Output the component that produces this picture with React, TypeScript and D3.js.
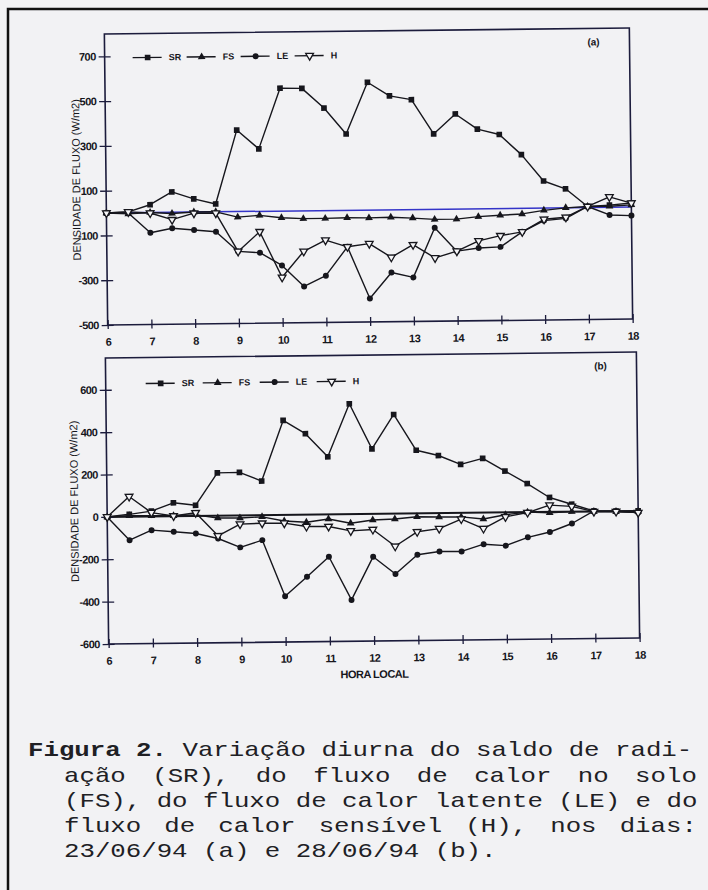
import React, { useEffect, useRef } from "react";
import * as d3 from "d3";

// half-hourly readings, 6h to 18h
const hours = [6, 6.5, 7, 7.5, 8, 8.5, 9, 9.5, 10, 10.5, 11, 11.5, 12, 12.5, 13, 13.5, 14, 14.5, 15, 15.5, 16, 16.5, 17, 17.5, 18];
const hourTicks = [6, 7, 8, 9, 10, 11, 12, 13, 14, 15, 16, 17, 18];

// (a) 23/06/94
const srA = [0, 4, 35, 91, 59, 35, 364, 279, 549, 547, 458, 341, 571, 509, 491, 337, 425, 356, 331, 240, 121, 85, 5, 10, 18];
const fsA = [0, -5, 0, -5, 0, 0, -25, -18, -30, -35, -35, -33, -35, -33, -38, -45, -45, -35, -30, -25, -10, 0, 5, 5, 10];
const leA = [0, -1, -90, -71, -80, -89, -178, -185, -243, -338, -291, -163, -395, -280, -303, -82, -188, -175, -171, -105, -56, -47, 5, -34, -38];
const hA = [0, 4, -2, -33, -5, -6, -178, -91, -296, -181, -132, -163, -150, -212, -157, -217, -188, -143, -121, -105, -50, -42, 5, 47, 18];
const yTicksA = [700, 500, 300, 100, -100, -300, -500];

// (b) 28/06/94
const srB = [0, 11, 25, 63, 50, 202, 203, 161, 446, 382, 272, 521, 307, 468, 298, 272, 229, 256, 195, 135, 68, 35, 2, 0, 0];
const fsB = [0, 4, 3, 2, 5, -11, -12, -8, -29, -36, -22, -43, -29, -25, -16, -18, -19, -30, -11, 0, -4, 0, -1, -2, -3];
const leB = [0, -111, -65, -74, -83, -108, -151, -118, -384, -293, -200, -405, -202, -285, -195, -181, -182, -149, -157, -119, -95, -56, 2, -2, -8];
const hB = [0, 95, 18, 1, 15, -95, -41, -38, -39, -56, -57, -79, -74, -154, -87, -73, -29, -75, -21, -2, 32, 25, -1, -2, -8];
const yTicksB = [600, 400, 200, 0, -200, -400, -600];

const seriesNames = ["SR", "FS", "LE", "H"];
const yTitle = "DENSIDADE DE FLUXO (W/m2)";
const xTitle = "HORA LOCAL";

const captionLines = [
  "Variação diurna do saldo de radi-",
  "ação (SR), do fluxo de calor no solo",
  "(FS), do fluxo de calor latente (LE) e do",
  "fluxo de calor sensível (H), nos dias:",
  "23/06/94 (a) e 28/06/94 (b).",
];

const INK = "#16161c";
const AXIS = "#1c1c3c";
const SANS = "'Liberation Sans', Arial, sans-serif";

const App: React.FC = () => {
  const svgRef = useRef<SVGSVGElement>(null);

  useEffect(() => {
    if (!svgRef.current) return;
    const svg = d3.select(svgRef.current);
    svg.selectAll("*").remove();

    svg.append("rect").attr("width", 708).attr("height", 890).attr("fill", "#f2f2f4");

    // scan frame (left and top edges only are visible)
    svg.append("path").attr("d", "M8,890 L8,9 L708,9").attr("fill", "none").attr("stroke", "#111").attr("stroke-width", 2.5);

    const symbolFor = (name: string) => {
      if (name === "SR") return d3.symbol().type(d3.symbolSquare).size(32)();
      if (name === "FS") return d3.symbol().type(d3.symbolTriangle).size(26)();
      if (name === "LE") return d3.symbol().type(d3.symbolCircle).size(28)();
      return d3.symbol().type(d3.symbolTriangle).size(26)();
    };

    const drawMarker = (g: any, name: string, x: number, y: number) => {
      const p = g.append("path").attr("d", symbolFor(name));
      if (name === "H") {
        p.attr("transform", `translate(${x},${y}) rotate(180)`).attr("fill", "#f6f6f8").attr("stroke", INK).attr("stroke-width", 1.3);
      } else {
        p.attr("transform", `translate(${x},${y})`).attr("fill", INK);
      }
    };

    const drawPanel = (cfg: {
      left: number; right: number; top: number; bottom: number;
      domain: [number, number]; ticks: number[]; series: number[][];
      label: string; legendX: number; legendY: number; legendGap: number;
      zeroColor: string; zeroWidth: number; titleX: number; xTitle: boolean;
    }) => {
      const cx = (cfg.left + cfg.right) / 2;
      const cy = (cfg.top + cfg.bottom) / 2;
      const g = svg.append("g").attr("transform", `rotate(-0.65, ${cx}, ${cy})`);

      const x = d3.scaleLinear().domain([6, 18]).range([cfg.left, cfg.right]);
      const y = d3.scaleLinear().domain(cfg.domain).range([cfg.bottom, cfg.top]);

      // frame
      g.append("rect")
        .attr("x", cfg.left).attr("y", cfg.top)
        .attr("width", cfg.right - cfg.left).attr("height", cfg.bottom - cfg.top)
        .attr("fill", "none").attr("stroke", AXIS).attr("stroke-width", 1.6);

      // zero line
      g.append("line")
        .attr("x1", cfg.left).attr("x2", cfg.right)
        .attr("y1", y(0)).attr("y2", y(0))
        .attr("stroke", cfg.zeroColor).attr("stroke-width", cfg.zeroWidth);

      // left axis
      const yAxis = g.append("g").attr("transform", `translate(${cfg.left},0)`)
        .call(d3.axisLeft(y).tickValues(cfg.ticks).tickSize(6).tickPadding(4).tickFormat((d: any) => String(d)));
      yAxis.select(".domain").remove();
      yAxis.selectAll(".tick line").attr("x2", 6).attr("x1", -6).attr("stroke", AXIS).attr("stroke-width", 1.3);
      yAxis.selectAll(".tick text")
        .attr("font-family", SANS)
        .attr("font-size", 11).attr("font-weight", "bold").attr("fill", INK)
        .attr("x", -9).attr("letter-spacing", -0.6);

      // bottom axis
      const xAxis = g.append("g").attr("transform", `translate(0,${cfg.bottom})`)
        .call(d3.axisBottom(x).tickValues(hourTicks).tickSize(5).tickPadding(8).tickFormat((d: any) => String(d)));
      xAxis.select(".domain").remove();
      xAxis.selectAll(".tick line").attr("y1", -5).attr("y2", 4).attr("stroke", AXIS).attr("stroke-width", 1.3);
      xAxis.selectAll(".tick text")
        .attr("font-family", SANS)
        .attr("font-size", 11).attr("font-weight", "bold").attr("fill", INK)
        .attr("letter-spacing", -0.6);

      // y title
      g.append("text")
        .attr("transform", `translate(${cfg.titleX},${cy}) rotate(-90)`)
        .attr("text-anchor", "middle")
        .attr("font-family", SANS)
        .attr("font-size", 11).attr("fill", INK)
        .text(yTitle);

      if (cfg.xTitle) {
        g.append("text")
          .attr("x", cx).attr("y", cfg.bottom + 37)
          .attr("text-anchor", "middle")
          .attr("font-family", SANS)
          .attr("font-size", 11).attr("font-weight", "bold").attr("fill", INK)
          .attr("letter-spacing", -0.5)
          .text(xTitle);
      }

      // panel label
      g.append("text")
        .attr("x", cfg.right - 36).attr("y", cfg.top + 17)
        .attr("text-anchor", "middle")
        .attr("font-family", SANS)
        .attr("font-size", 10).attr("font-weight", "bold").attr("fill", INK)
        .text(cfg.label);

      // series
      const line = d3.line<number>().x((_, i) => x(hours[i])).y((d) => y(d));
      cfg.series.forEach((vals) => {
        g.append("path").datum(vals).attr("d", line)
          .attr("fill", "none").attr("stroke", INK).attr("stroke-width", 1.4).attr("stroke-linejoin", "round");
      });
      cfg.series.forEach((vals, si) => {
        vals.forEach((v, i) => drawMarker(g, seriesNames[si], x(hours[i]), y(v)));
      });

      // legend
      seriesNames.forEach((name, i) => {
        const lx = cfg.legendX + i * cfg.legendGap;
        g.append("line")
          .attr("x1", lx).attr("x2", lx + 29)
          .attr("y1", cfg.legendY).attr("y2", cfg.legendY)
          .attr("stroke", INK).attr("stroke-width", 1.4);
        drawMarker(g, name, lx + 15, cfg.legendY);
        g.append("text")
          .attr("x", lx + 36).attr("y", cfg.legendY)
          .attr("dominant-baseline", "central")
          .attr("font-family", SANS)
          .attr("font-size", 9).attr("font-weight", "bold").attr("fill", INK)
          .text(name);
      });
    };

    drawPanel({
      left: 106, right: 631, top: 31, bottom: 322,
      domain: [-500, 800], ticks: yTicksA, series: [srA, fsA, leA, hA],
      label: "(a)", legendX: 134, legendY: 55, legendGap: 54,
      zeroColor: "#3434c8", zeroWidth: 1.5, titleX: 80, xTitle: false,
    });

    drawPanel({
      left: 107, right: 638, top: 355, bottom: 641,
      domain: [-600, 750], ticks: yTicksB, series: [srB, fsB, leB, hB],
      label: "(b)", legendX: 147, legendY: 381, legendGap: 57,
      zeroColor: INK, zeroWidth: 2, titleX: 78, xTitle: true,
    });

    // caption, monospace scan stretched horizontally
    const sx = 1.2875;
    const charW = 12;
    const cap = svg.append("g").attr("transform", `scale(${sx},1)`)
      .attr("font-family", "'Liberation Mono', 'Courier New', monospace")
      .attr("font-size", 20).attr("fill", "#202024");

    const first = cap.append("text").attr("x", 28 / sx).attr("y", 756);
    first.append("tspan").attr("font-weight", "bold").text("Figura 2.");
    first.append("tspan").text(" " + captionLines[0]);

    captionLines.slice(1).forEach((txt, i) => {
      const justify = i < 3;
      const spaces = txt.split(" ").length - 1;
      const natural = txt.length * charW;
      const target = (697 - 64) / sx;
      const ws = justify ? Math.max(0, (target - natural) / spaces) : 0;
      cap.append("text")
        .attr("x", 64 / sx).attr("y", 782 + i * 25)
        .attr("word-spacing", ws)
        .text(txt);
    });
  }, []);

  return (
    <svg
      ref={svgRef}
      width={708}
      height={890}
      style={{ position: "absolute", left: 0, top: 0, display: "block" }}
    />
  );
};

export default App;
